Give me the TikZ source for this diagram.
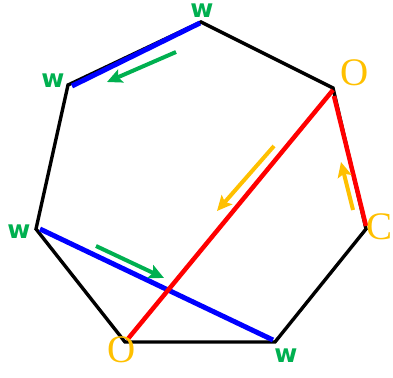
\documentclass[tikz,border=0pt]{standalone}
\usepackage{fontspec}
\newfontfamily\wfont{DejaVu Sans}
\newfontfamily\ofont{Liberation Serif}
\usetikzlibrary{arrows.meta}
\definecolor{wgreen}{RGB}{0,176,80}
\definecolor{ogold}{RGB}{255,192,0}
\tikzset{
  poly/.style={line width=3.4pt, black, line join=miter},
  blueseg/.style={line width=5pt, blue},
  redseg/.style={line width=4.5pt, red},
  garrow/.style={line width=4pt, wgreen, -{Stealth[length=15pt,width=14pt,inset=3pt]}},
  yarrow/.style={line width=4pt, ogold, -{Stealth[length=15pt,width=14pt,inset=3pt]}},
  wlab/.style={text=wgreen, font=\wfont\bfseries\fontsize{25}{25}\selectfont, inner sep=0pt},
  olab/.style={text=ogold, font=\ofont\fontsize{39}{39}\selectfont, inner sep=0pt},
}
\begin{document}
\begin{tikzpicture}[x=1pt,y=-1pt]
\useasboundingbox (0,0) rectangle (393,377);
% vertices
\coordinate (v1) at (201,22);
\coordinate (v2) at (333,88);
\coordinate (v3) at (366,229);
\coordinate (v4) at (275,342);
\coordinate (v5) at (125,342);
\coordinate (v6) at (36,229);
\coordinate (v7) at (68,85);
\draw[poly] (v1) -- (v2) -- (v3) -- (v4) -- (v5) -- (v6) -- (v7) -- cycle;
% coloured segments
\coordinate (b1s) at (200,23);
\coordinate (b1e) at (72,86);
\draw[blueseg] (b1s) -- (b1e);
\coordinate (b2s) at (40,229);
\coordinate (b2e) at (273,340);
\draw[blueseg] (b2s) -- (b2e);
\coordinate (r1s) at (333,90);
\coordinate (r1e) at (127,340);
\draw[redseg] (r1s) -- (r1e);
\coordinate (r2s) at (334,96);
\coordinate (r2e) at (366,226);
\draw[redseg] (r2s) -- (r2e);
% arrows
\coordinate (g1s) at (176,52);
\coordinate (g1e) at (107,82);
\draw[garrow] (g1s) -- (g1e);
\coordinate (g2s) at (96,246);
\coordinate (g2e) at (164,278);
\draw[garrow] (g2s) -- (g2e);
\coordinate (y1s) at (274,146);
\coordinate (y1e) at (217,211);
\draw[yarrow] (y1s) -- (y1e);
\coordinate (y2s) at (353,210);
\coordinate (y2e) at (341,162);
\draw[yarrow] (y2s) -- (y2e);
% labels
\node[wlab] (lw1) at (202,11) {w};
\node[wlab] (lw2) at (53,81) {w};
\node[wlab] (lw3) at (19,232) {w};
\node[wlab] (lw4) at (286,356) {w};
\node[olab] (lo1) at (355,73) {O};
\node[olab] (lo2) at (122,350) {O};
\node[olab] (lc) at (380,227) {C};
\end{tikzpicture}
\end{document}
